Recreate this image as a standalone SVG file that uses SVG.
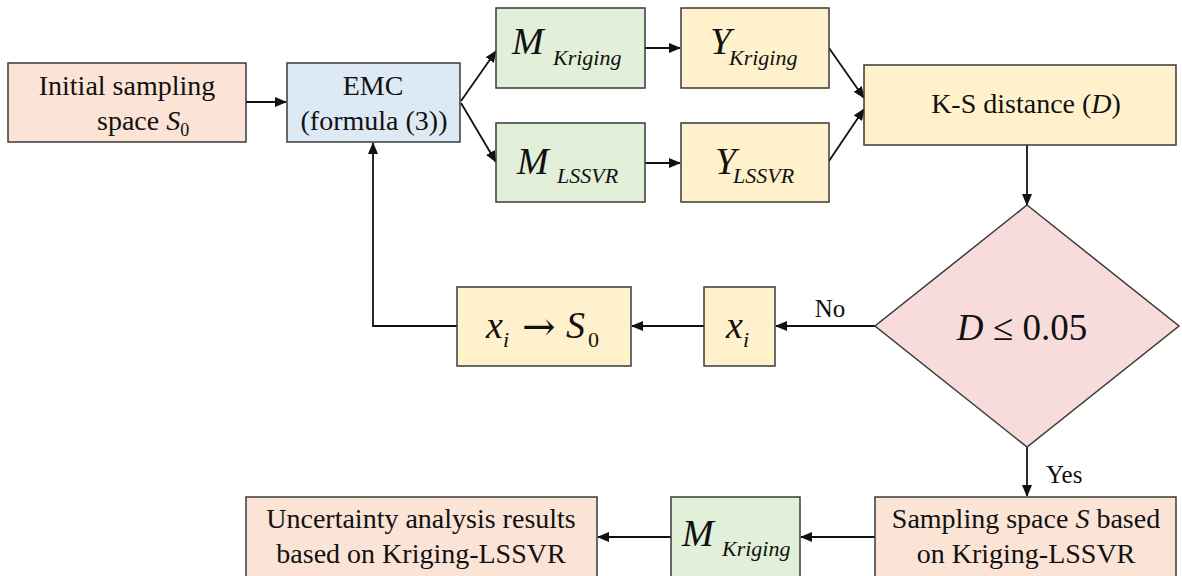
<svg xmlns="http://www.w3.org/2000/svg" width="1182" height="576" viewBox="0 0 1182 576">
  <style>
    .box { stroke: #3a3a3a; stroke-width: 1.5; }
    .peach { fill: #fbe4d5; }
    .blue { fill: #dde9f5; }
    .green { fill: #e2efd9; }
    .yellow { fill: #fff1cc; }
    .pink { fill: #f8dcdc; }
    .t { font-family: "Liberation Serif", "Times New Roman", serif; fill: #111; }
    .n { font-size: 28px; }
    .m { font-size: 38px; font-style: italic; }
    .s { font-size: 22px; font-style: italic; }
    .c { text-anchor: middle; }
    .wire { fill: none; stroke: #111; stroke-width: 1.8; }
  </style>
  <defs>
    <marker id="arrow" markerWidth="12" markerHeight="10" refX="11" refY="5" orient="auto" markerUnits="userSpaceOnUse">
      <path d="M0,0 L12,5 L0,10 Z" fill="#111"/>
    </marker>
  </defs>

  <rect width="1182" height="576" fill="#ffffff"/>

  <!-- connectors -->
  <g id="connectors">
    <line class="wire" x1="246" y1="102" x2="286" y2="102" marker-end="url(#arrow)"/>
    <line class="wire" x1="461" y1="101" x2="496" y2="51" marker-end="url(#arrow)"/>
    <line class="wire" x1="461" y1="103" x2="496" y2="162" marker-end="url(#arrow)"/>
    <line class="wire" x1="645" y1="48" x2="680" y2="48" marker-end="url(#arrow)"/>
    <line class="wire" x1="645" y1="163" x2="680" y2="163" marker-end="url(#arrow)"/>
    <line class="wire" x1="829" y1="48" x2="864" y2="98" marker-end="url(#arrow)"/>
    <line class="wire" x1="829" y1="161" x2="864" y2="109" marker-end="url(#arrow)"/>
    <line class="wire" x1="1027" y1="145" x2="1027" y2="205" marker-end="url(#arrow)"/>
    <line class="wire" x1="875" y1="326" x2="776" y2="326" marker-end="url(#arrow)"/>
    <line class="wire" x1="704" y1="326" x2="632" y2="326" marker-end="url(#arrow)"/>
    <polyline class="wire" points="457,326 373,326 373,143" marker-end="url(#arrow)"/>
    <line class="wire" x1="1027" y1="447" x2="1027" y2="496" marker-end="url(#arrow)"/>
    <line class="wire" x1="875" y1="537" x2="801" y2="537" marker-end="url(#arrow)"/>
    <line class="wire" x1="671" y1="537" x2="598" y2="537" marker-end="url(#arrow)"/>
    <text class="t c" x="830" y="317" font-size="25">No</text>
    <text class="t" x="1046" y="483" font-size="25">Yes</text>
  </g>

  <!-- initial sampling space -->
  <g id="initial">
    <rect class="box peach" x="8" y="63" width="238" height="79"/>
    <text class="t n c" x="127" y="95">Initial sampling</text>
    <text class="t n" x="97" y="130">space <tspan font-style="italic">S</tspan><tspan font-size="18" dy="6">0</tspan></text>
  </g>

  <!-- EMC -->
  <g id="emc">
    <rect class="box blue" x="287" y="63" width="173" height="79"/>
    <text class="t n c" x="373" y="95">EMC</text>
    <text class="t n c" x="374" y="130">(formula (3))</text>
  </g>

  <!-- M Kriging -->
  <g id="m-kriging">
    <rect class="box green" x="496" y="8" width="149" height="80"/>
    <text class="t m" x="512" y="54">M</text>
    <text class="t s" x="553" y="65">Kriging</text>
  </g>

  <!-- M LSSVR -->
  <g id="m-lssvr">
    <rect class="box green" x="496" y="123" width="149" height="79"/>
    <text class="t m" x="517" y="174">M</text>
    <text class="t s" x="557" y="183">LSSVR</text>
  </g>

  <!-- Y Kriging -->
  <g id="y-kriging">
    <rect class="box yellow" x="681" y="8" width="148" height="80"/>
    <text class="t m" x="710" y="54">Y</text>
    <text class="t s" x="729" y="65">Kriging</text>
  </g>

  <!-- Y LSSVR -->
  <g id="y-lssvr">
    <rect class="box yellow" x="681" y="123" width="148" height="79"/>
    <text class="t m" x="715" y="174">Y</text>
    <text class="t s" x="733" y="183">LSSVR</text>
  </g>

  <!-- K-S distance -->
  <g id="ks">
    <rect class="box yellow" x="864" y="65" width="312" height="80"/>
    <text class="t n c" x="1026" y="113">K-S distance (<tspan font-style="italic">D</tspan>)</text>
  </g>

  <!-- decision -->
  <g id="decision">
    <polygon class="box pink" points="1027,205 1179,326 1027,447 875,326"/>
    <text class="t c" x="1022" y="340" font-size="37"><tspan font-style="italic">D</tspan> ≤ 0.05</text>
  </g>

  <!-- x_i -->
  <g id="xi">
    <rect class="box yellow" x="704" y="287" width="71" height="79"/>
    <text class="t m" x="726" y="338">x</text>
    <text class="t s" x="743" y="347">i</text>
  </g>

  <!-- x_i to S0 -->
  <g id="xi-s0">
    <rect class="box yellow" x="457" y="287" width="174" height="79"/>
    <text class="t m" x="486" y="338">x</text>
    <text class="t s" x="503" y="347">i</text>
    <text x="522" y="340" font-family="DejaVu Serif, serif" font-size="40" fill="#111">→</text>
    <text class="t m" x="566" y="338">S</text>
    <text class="t" x="588" y="347" font-size="22">0</text>
  </g>

  <!-- sampling space S -->
  <g id="sampling">
    <rect class="box peach" x="875" y="497" width="301" height="84"/>
    <text class="t n c" x="1026" y="528">Sampling space <tspan font-style="italic">S</tspan> based</text>
    <text class="t n c" x="1026" y="563">on Kriging-LSSVR</text>
  </g>

  <!-- M Kriging (final) -->
  <g id="m-kriging-final">
    <rect class="box green" x="671" y="497" width="129" height="84"/>
    <text class="t m" x="682" y="546">M</text>
    <text class="t s" x="722" y="556">Kriging</text>
  </g>

  <!-- uncertainty results -->
  <g id="results">
    <rect class="box peach" x="246" y="497" width="351" height="84"/>
    <text class="t n c" x="421" y="528">Uncertainty analysis results</text>
    <text class="t n c" x="421" y="563">based on Kriging-LSSVR</text>
  </g>
</svg>
